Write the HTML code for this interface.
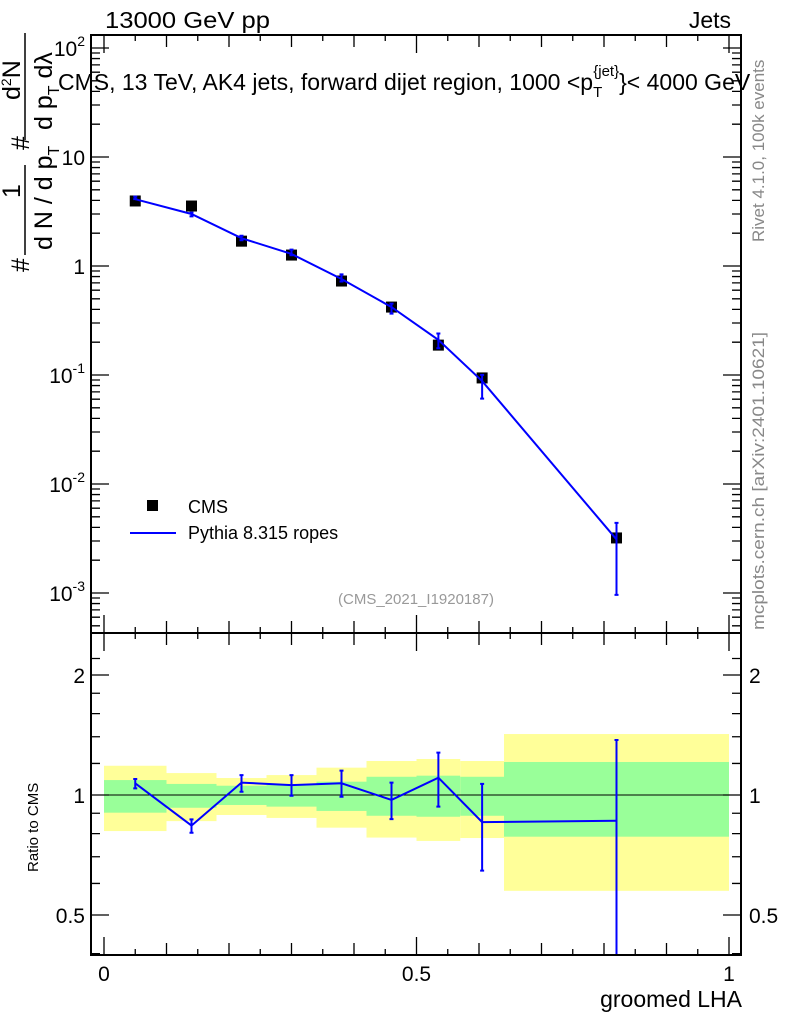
<!DOCTYPE html>
<html><head><meta charset="utf-8"><style>
body{margin:0;background:#fff;}
svg{display:block;font-family:"Liberation Sans",sans-serif;}
</style></head><body>
<svg id="c" width="786" height="1024" viewBox="0 0 786 1024" xmlns="http://www.w3.org/2000/svg">
<g id="bands"></g>
<g id="marks"></g>
<g id="axes"></g>
<text x="105" y="28" font-size="23" textLength="165" lengthAdjust="spacingAndGlyphs">13000 GeV pp</text>
<text x="731" y="28" font-size="23" text-anchor="end">Jets</text>
<text x="58" y="90" font-size="23">CMS, 13 TeV, AK4 jets, forward dijet region, 1000 &lt;p<tspan font-size="15" dy="7">T</tspan><tspan font-size="15" dx="-9" dy="-21">{jet}</tspan><tspan dy="14">}&lt; 4000 GeV</tspan></text>
<text transform="translate(764,242) rotate(-90)" font-size="17" fill="#888">Rivet 4.1.0,  100k events</text>
<text transform="translate(764,630) rotate(-90)" font-size="17" fill="#888" textLength="298" lengthAdjust="spacingAndGlyphs">mcplots.cern.ch [arXiv:2401.10621]</text>
<text x="416" y="604" font-size="15" fill="#999" text-anchor="middle">(CMS_2021_I1920187)</text>
<g>
<rect x="147" y="500" width="11" height="11" fill="#000"/>
<text x="188" y="513" font-size="18">CMS</text>
<line x1="130" y1="533" x2="176" y2="533" stroke="#0000ff" stroke-width="2"/>
<text x="188" y="539" font-size="18">Pythia 8.315 ropes</text>
</g>
<g font-size="25">
<text transform="translate(29,272) rotate(-90)">#</text>
<text transform="translate(20,198) rotate(-90)">1</text>
<line x1="25" y1="165" x2="25" y2="255" stroke="#000" stroke-width="1.5"/>
<text transform="translate(52,250) rotate(-90)">d N / d p<tspan font-size="16" dy="7">T</tspan></text>
<text transform="translate(29,150) rotate(-90)">#</text>
<text transform="translate(20,100) rotate(-90)">d<tspan font-size="14" dy="-9">2</tspan><tspan dy="9">N</tspan></text>
<line x1="25" y1="33" x2="25" y2="140" stroke="#000" stroke-width="1.5"/>
<text transform="translate(52,130) rotate(-90)">d p<tspan font-size="16" dy="7">T</tspan><tspan dy="-7">  dλ</tspan></text>
</g>
<text transform="translate(38,872) rotate(-90)" font-size="15">Ratio to CMS</text>
<text x="742" y="1007" font-size="23" text-anchor="end">groomed LHA</text>
</svg>
<script>
const binEdges=[0,0.1,0.18,0.26,0.34,0.42,0.5,0.57,0.64,1.0];
const binCenters=[0.05,0.14,0.22,0.30,0.38,0.46,0.535,0.605,0.82];
const cmsValues=[3.95,3.55,1.69,1.26,0.728,0.42,0.188,0.094,0.0032];
const mcValues=[4.1,3.0,1.8,1.29,0.76,0.42,0.21,0.088,0.0031];
const ratioValues=[1.070,0.838,1.074,1.059,1.070,0.972,1.105,0.855,0.862];
const ratioUp=[1.097,0.869,1.122,1.122,1.151,1.074,1.277,1.066,1.374];
const ratioDown=[1.039,0.804,1.019,0.996,0.990,0.870,0.935,0.646,0.3];
const yellowUp=[1.184,1.135,1.103,1.122,1.171,1.217,1.231,1.217,1.422];
const yellowDown=[0.812,0.86,0.891,0.876,0.828,0.782,0.767,0.78,0.575];
const greenUp=[1.09,1.066,1.055,1.059,1.08,1.111,1.118,1.111,1.21];
const greenDown=[0.903,0.929,0.944,0.935,0.912,0.887,0.882,0.887,0.786];
const mainTicks=["10^-3","10^-2","10^-1","1","10","10^2"];
const ratioTickLabels=["0.5","1","2"];
const xTickLabels=["0","0.5","1"];

const NS="http://www.w3.org/2000/svg";
const L=91,R=741,MT=35,MB=633,RB=955;
const X=v=>104+v*625;
const Y=v=>266-Math.log10(v)*109;
const YR=v=>795-Math.log10(v)*398.7;
function mk(t,a,p){const e=document.createElementNS(NS,t);for(const k in a)e.setAttribute(k,a[k]);p.appendChild(e);return e;}
const bands=document.getElementById('bands'),marks=document.getElementById('marks'),axes=document.getElementById('axes');

for(let i=0;i<binCenters.length;i++){
 const x0=X(binEdges[i]),x1=X(binEdges[i+1]);
 let r=mk('rect',{x:x0,y:YR(yellowUp[i]),width:x1-x0,height:YR(yellowDown[i])-YR(yellowUp[i]),fill:'#ffff99'},bands);
 
 
 r=mk('rect',{x:x0,y:YR(greenUp[i]),width:x1-x0,height:YR(greenDown[i])-YR(greenUp[i]),fill:'#99ff99'},bands);
 
 
}
let ln=mk('line',{x1:L,x2:R,y1:YR(1),y2:YR(1),stroke:'#000','stroke-width':1},bands);



for(let i=0;i<binCenters.length;i++){
 const x=X(binCenters[i]);
 const s=mk('rect',{x:x-5.5,y:Y(cmsValues[i])-5.5,width:11,height:11,fill:'#000'},marks);
 
 
}
let pts=binCenters.map((c,i)=>X(c)+','+Y(mcValues[i])).join(' ');
let pl=mk('polyline',{points:pts,fill:'none',stroke:'#0000ff','stroke-width':2},marks);


for(let i=0;i<binCenters.length;i++){
 const x=X(binCenters[i]);
 const hi=Math.min(ratioUp[i]*cmsValues[i],200),lo=Math.max(ratioDown[i]*cmsValues[i],0.0003);
 const e=mk('path',{d:`M${x},${Y(hi)}V${Y(lo)}M${x-2},${Y(hi)}h4M${x-2},${Y(lo)}h4`,stroke:'#0000ff','stroke-width':2,fill:'none'},marks);
 
 
}
pts=binCenters.map((c,i)=>X(c)+','+YR(ratioValues[i])).join(' ');
pl=mk('polyline',{points:pts,fill:'none',stroke:'#0000ff','stroke-width':2},marks);


for(let i=0;i<binCenters.length;i++){
 const x=X(binCenters[i]);
 const yt=YR(ratioUp[i]),yb=Math.min(YR(ratioDown[i]),RB);
 const e=mk('path',{d:`M${x},${yt}V${yb}M${x-2},${yt}h4`+(yb<RB?`M${x-2},${yb}h4`:''),stroke:'#0000ff','stroke-width':2,fill:'none'},marks);
 
 
}
let f=mk('rect',{x:L,y:MT,width:R-L,height:MB-MT,fill:'none',stroke:'#000','stroke-width':2},axes);


f=mk('rect',{x:L,y:MB,width:R-L,height:RB-MB,fill:'none',stroke:'#000','stroke-width':2},axes);


let d='';
for(let k=0;k<=20;k++){const v=k*0.05,x=X(v);const len=(k%10==0)?18:(k%2==0?12:6);
 d+=`M${x},${MT}v${len}M${x},${MB}v${-len}M${x},${MB}v${len}M${x},${RB}v${-len}`;}
for(let e=-4;e<=2;e++)for(let m=1;m<10;m++){const v=m*Math.pow(10,e),y=Y(v);if(y<MT||y>MB)continue;
 const len=m==1?18:9;d+=`M${L},${y}h${len}M${R},${y}h${-len}`;}
[0.4,0.5,0.6,0.7,0.8,0.9,1,1.2,1.4,1.6,1.8,2,2.2].forEach(v=>{const y=YR(v);if(y<MB||y>RB)return;
 const len=(v==0.5||v==1||v==2)?18:9;d+=`M${L},${y}h${len}M${R},${y}h${-len}`;});
const tk=mk('path',{d:d,stroke:'#000','stroke-width':1.3,fill:'none'},axes);


mainTicks.forEach(s=>{const p=s.split('^');const v=p.length>1?Math.pow(10,+p[1]):+s;const y=Y(v);
 const t=mk('text',{x:L-6,y:y+8,'font-size':21,'text-anchor':'end'},axes);
 
 
 if(p.length>1){t.innerHTML=p[0]+'<tspan font-size="14" dy="-10">'+p[1]+'</tspan>';}else t.textContent=s;});
ratioTickLabels.forEach(s=>{const y=YR(+s);
 const t=mk('text',{x:L-6,y:y+8,'font-size':21,'text-anchor':'end'},axes);t.textContent=s;
 
 
 const t2=mk('text',{x:R+8,y:y+8,'font-size':21},axes);t2.textContent=s;
 
 });
xTickLabels.forEach(s=>{const t=mk('text',{x:X(+s),y:981,'font-size':21,'text-anchor':'middle'},axes);t.textContent=s;
 
 });
</script>
</body></html>
